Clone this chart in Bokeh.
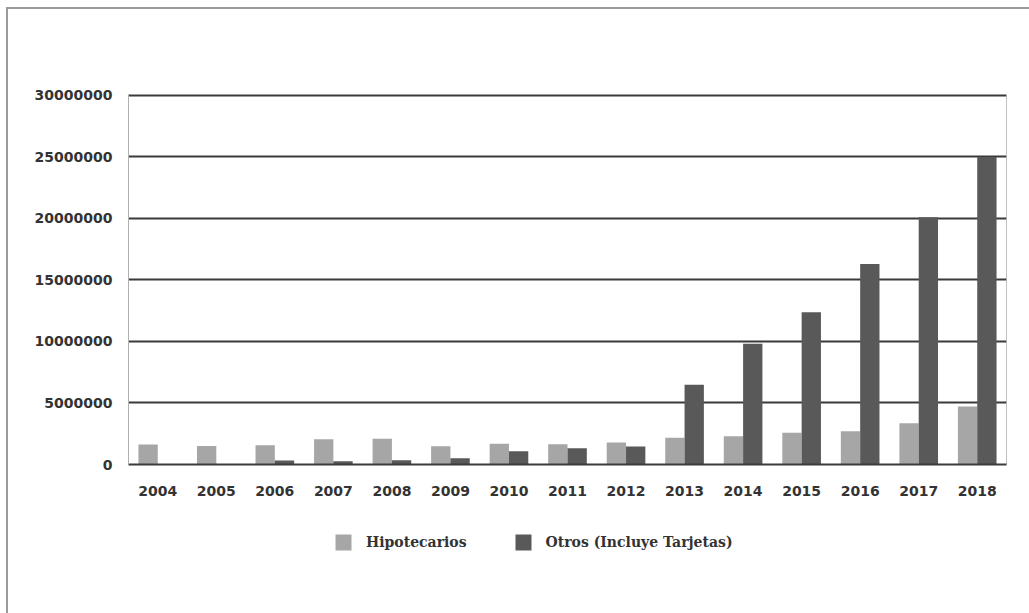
from bokeh.plotting import figure
from bokeh.layouts import column
from bokeh.models import (ColumnDataSource, FactorRange, FixedTicker, NumeralTickFormatter,
                          Legend, LegendItem, Range1d)
from bokeh.transform import dodge
from bokeh.embed import file_html
from bokeh.resources import INLINE

years = ["2004", "2005", "2006", "2007", "2008", "2009", "2010", "2011", "2012",
         "2013", "2014", "2015", "2016", "2017", "2018"]
hipotecarios = [1630000, 1500000, 1570000, 2060000, 2090000, 1490000, 1680000, 1650000,
                1790000, 2170000, 2300000, 2580000, 2710000, 3360000, 4720000]
otros = [50000, 50000, 330000, 270000, 350000, 510000, 1080000, 1330000,
         1460000, 6480000, 9810000, 12380000, 16300000, 20100000, 25000000]
y_ticks = [0, 5000000, 10000000, 15000000, 20000000, 25000000, 30000000]
series_names = ["Hipotecarios", "Otros (Incluye Tarjetas)"]
colors = ["#a6a6a6", "#595959"]

src = ColumnDataSource(dict(year=years, hip=hipotecarios, otr=otros))

# main chart
p = figure(width=1021, height=506, x_range=FactorRange(*years, range_padding=0),
           y_range=Range1d(0, 30080000), output_backend="svg", toolbar_location=None,
           min_border_left=120, min_border_right=23, min_border_top=85, min_border_bottom=51)
p.background_fill_color = "white"
p.border_fill_color = "white"
p.outline_line_color = "#c0c0c0"
p.outline_line_width = 1

p.vbar(x=dodge("year", -0.165, range=p.x_range), top="hip", width=0.33, source=src,
       fill_color=colors[0], line_color=None)
p.vbar(x=dodge("year", 0.165, range=p.x_range), top="otr", width=0.33, source=src,
       fill_color=colors[1], line_color=None)

p.xgrid.grid_line_color = None
p.ygrid.grid_line_color = "#3a3a3a"
p.ygrid.grid_line_width = 2
p.ygrid.ticker = FixedTicker(ticks=y_ticks)

p.yaxis.ticker = FixedTicker(ticks=y_ticks)
p.yaxis.formatter = NumeralTickFormatter(format="0")
p.yaxis.axis_line_color = "#b0b0b0"
p.yaxis.major_tick_line_color = None
p.yaxis.minor_tick_line_color = None
p.yaxis.major_label_standoff = 10
p.xaxis.axis_line_color = "#3a3a3a"
p.xaxis.axis_line_width = 2
p.xaxis.major_tick_line_color = None
p.xaxis.major_label_standoff = 15

for ax in (p.xaxis[0], p.yaxis[0]):
    ax.major_label_text_font = "DejaVu Sans"
    ax.major_label_text_font_style = "bold"
    ax.major_label_text_font_size = "14px"
    ax.major_label_text_color = "#333333"

# legend strip (separate figure so the legend is not clipped); its zero-width bars stay invisible
q = figure(width=1021, height=98, x_range=FactorRange(*years), y_range=Range1d(60000000, 90000000),
           output_backend="svg", toolbar_location=None, x_axis_type=None, y_axis_type=None,
           min_border_left=0, min_border_right=0, min_border_top=0, min_border_bottom=0)
q.outline_line_color = None
q.background_fill_color = "white"
q.border_fill_color = "white"
q.xgrid.grid_line_color = None
q.ygrid.grid_line_color = None
q1 = q.vbar(x="year", top="hip", width=0, source=src, fill_color=colors[0], line_color=None)
q2 = q.vbar(x="year", top="otr", width=0, source=src, fill_color=colors[1], line_color=None)

legend = Legend(items=[LegendItem(label=series_names[0], renderers=[q1]),
                       LegendItem(label=series_names[1], renderers=[q2])],
                orientation="horizontal", location=(205, 61),
                glyph_width=20, glyph_height=20, spacing=46, label_standoff=13,
                padding=0, margin=0, border_line_color=None, background_fill_alpha=0,
                label_text_font="DejaVu Serif", label_text_font_style="bold",
                label_text_font_size="14px", label_text_color="#333333")
q.add_layout(legend, "center")

layout = column(p, q, spacing=0)
layout.styles = {"border-left": "2px solid #9a9a9a", "border-top": "2px solid #9a9a9a",
                 "margin-left": "6px", "margin-top": "7px"}

open("out.html", "w").write(file_html(layout, INLINE))
